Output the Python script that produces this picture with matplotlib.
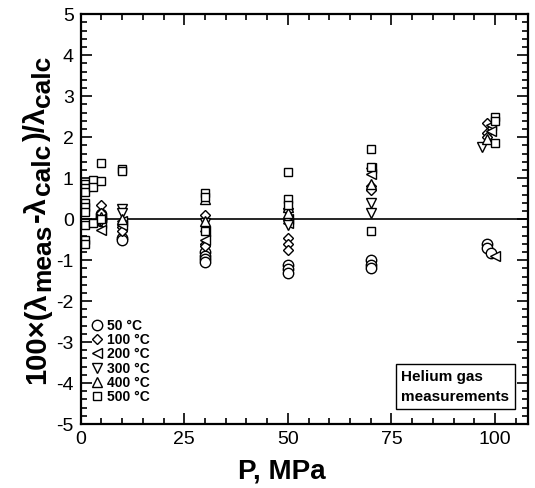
import matplotlib
matplotlib.use("Agg")
import matplotlib.pyplot as plt
from matplotlib.ticker import MultipleLocator
from matplotlib.transforms import IdentityTransform

plt.rcParams['font.family'] = ['Liberation Sans', 'DejaVu Sans']
plt.rcParams['axes.unicode_minus'] = False

# Deviations of measured thermal conductivity from the correlation, by isotherm
p_50 = [5, 5, 5, 5, 10, 10, 30, 30, 30, 30, 50, 50, 50, 70, 70, 70, 98, 98, 99]
d_50 = [0.12, 0.05, 0.0, -0.05, -0.45, -0.52, -0.8, -0.9, -0.98, -1.05,
        -1.12, -1.22, -1.32, -1.0, -1.12, -1.2, -0.6, -0.7, -0.82]

p_100 = [5, 5, 10, 10, 30, 30, 30, 50, 50, 50, 70, 70, 98, 98, 98]
d_100 = [0.35, 0.15, -0.2, -0.3, 0.1, -0.6, -0.65, -0.45, -0.6, -0.75,
         0.8, 0.7, 2.35, 2.1, 2.0]

p_200 = [5, 5, 10, 10, 30, 30, 50, 50, 70, 70, 99, 99, 100]
d_200 = [-0.1, -0.27, -0.05, -0.15, -0.3, -0.5, 0.0, -0.1, 1.25, 1.1,
         2.3, 2.15, -0.9]

p_300 = [5, 10, 10, 30, 50, 50, 70, 70, 97]
d_300 = [-0.05, 0.25, 0.15, -0.1, 0.15, -0.15, 0.4, 0.15, 1.75]

p_400 = [5, 10, 30, 30, 50, 50, 70, 98]
d_400 = [0.05, 0.0, 0.5, -0.05, 0.3, 0.15, 0.85, 1.95]

p_500 = [1.0, 1.0, 1.0, 1.0, 1.0, 1.0, 1.0, 1.0, 1.0, 3, 3, 3, 5, 5, 5,
         10, 10, 30, 30, 30, 50, 50, 50, 70, 70, 70, 100, 100, 100]
d_500 = [0.85, 0.75, 0.4, 0.3, 0.17, -0.5, -0.6, -0.15, 0.65, 0.95, 0.78,
         -0.1, 1.38, 0.92, 0.0, 1.22, 1.18, 0.63, 0.55, -0.28, 1.15, 0.5,
         0.35, 1.7, 1.28, -0.3, 2.5, 2.4, 1.85]

series = [
    (p_50, d_50, 'o', '50 °C'),
    (p_100, d_100, 'D', '100 °C'),
    (p_200, d_200, '<', '200 °C'),
    (p_300, d_300, 'v', '300 °C'),
    (p_400, d_400, '^', '400 °C'),
    (p_500, d_500, 's', '500 °C'),
]
sizes = {'o': 7.5, 'D': 5.5, '<': 6.5, 'v': 6.5, '^': 6.5, 's': 6}

# y-axis label pieces: (text, is_subscript)
ylabel_parts = [('100×(λ', False), ('meas', True), ('-λ', False),
                ('calc', True), (')/λ', False), ('calc', True)]

fig = plt.figure(figsize=(5.35, 4.88), dpi=100)
ax = fig.add_axes([0.151, 0.131, 0.836, 0.840])

for p, d, m, lab in series:
    ax.plot(p, d, linestyle='none', marker=m, markersize=sizes[m],
            markerfacecolor='white', markeredgecolor='black',
            markeredgewidth=1.0, label=lab)

ax.axhline(0, color='black', lw=1.2, zorder=1)

ax.set_xlim(0, 108)
ax.set_ylim(-5, 5)
ax.xaxis.set_major_locator(MultipleLocator(25))
ax.xaxis.set_minor_locator(MultipleLocator(5))
ax.yaxis.set_major_locator(MultipleLocator(1))
ax.yaxis.set_minor_locator(MultipleLocator(0.2))
ax.tick_params(which='both', direction='in', top=True, right=True,
               width=1.2, colors='black')
ax.tick_params(which='major', length=8, labelsize=14, pad=5)
ax.tick_params(which='minor', length=4)
for s in ax.spines.values():
    s.set_linewidth(1.6)

ax.set_xlabel('P, MPa', fontsize=20, fontweight='bold')
ax.xaxis.set_label_coords(0.45, -0.085)

# Build the rotated y label piece by piece so subscripts can be sized freely
renderer = fig.canvas.get_renderer()
main_size, sub_size = 21, 19
base_x = 45          # baseline position in pixels from the left edge
sub_shift = 5        # subscript drop (to the right once rotated)
gap = 1.5            # extra spacing between pieces, pixels
texts = []
for txt, sub in ylabel_parts:
    t = fig.text(0, 0, txt, rotation=90, rotation_mode='anchor',
                 ha='left', va='baseline', fontweight='bold',
                 fontsize=sub_size if sub else main_size,
                 transform=IdentityTransform())
    texts.append((t, sub))
lengths = [t.get_window_extent(renderer).height for t, _ in texts]
total = sum(lengths) + gap * (len(lengths) - 1)
center_y = 488 - 220
y = center_y - total / 2
for (t, sub), L in zip(texts, lengths):
    t.set_position((base_x + (sub_shift if sub else 0), y))
    y += L + gap

leg = ax.legend(loc='lower left', bbox_to_anchor=(-0.005, 0.025), frameon=False,
                handletextpad=0.15, labelspacing=0.02, borderaxespad=0.3,
                handlelength=1.2, prop={'weight': 'bold', 'size': 10})

ax.text(0.958, 0.05, 'Helium gas\nmeasurements', transform=ax.transAxes,
        ha='right', va='bottom', multialignment='left', fontsize=11,
        fontweight='bold', linespacing=1.55,
        bbox=dict(boxstyle='square,pad=0.35', facecolor='white',
                  edgecolor='black', linewidth=1.0))

fig.savefig('out.png', dpi=100)
